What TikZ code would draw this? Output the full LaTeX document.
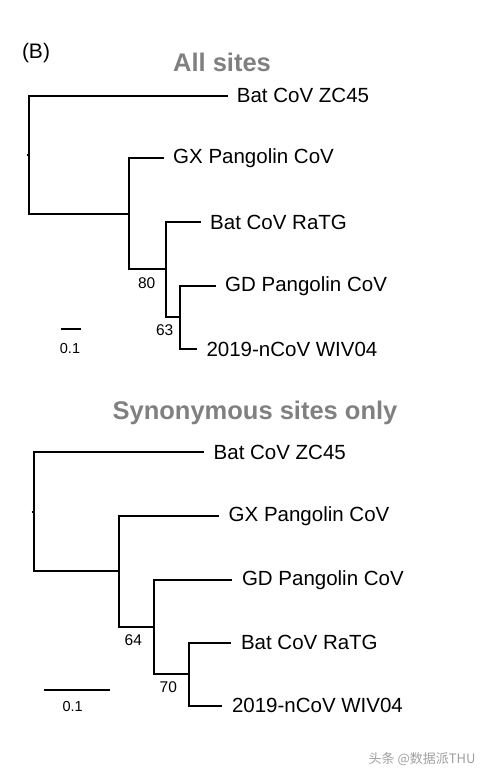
\documentclass[tikz,border=0pt]{standalone}
\usepackage{fontspec}
\setmainfont{Liberation Sans}
\newfontfamily\cjk{Noto Sans CJK SC}
\usetikzlibrary{positioning}
\definecolor{titlegray}{RGB}{128,128,128}

\begin{document}
\begin{tikzpicture}[x=1pt,y=-1pt,
    branch/.style={line width=1.9pt},
    taxon/.style={anchor=west,inner sep=0pt,font=\fontsize{20.5}{20.5}\selectfont},
    boot/.style={inner sep=0pt,font=\fontsize{15.5}{15.5}\selectfont},
    heading/.style={inner sep=0pt,text=titlegray,font=\bfseries\fontsize{25.5}{25.5}\selectfont}]
    \useasboundingbox (0,0) rectangle (484,776);

    % nadpisy
    \node[inner sep=0pt,font=\fontsize{21}{21}\selectfont] (panel) at (36,53) {(B)};
    \node[heading] (titleA) at (222,62) {All sites};
    \node[heading] (titleB) at (255,413) {Synonymous sites only};

    % horni strom
    \coordinate (a0s) at (26.5,154.7);
    \coordinate (a0) at (29.3,154.7);
    \coordinate (a1) at (128.7,213.7);
    \coordinate (a2) at (165.7,269.3);
    \coordinate (a3) at (180,317);
    \coordinate (aZC) at (227.7,95.7);
    \coordinate (aGX) at (164,157.7);
    \coordinate (aRa) at (201,222);
    \coordinate (aGD) at (216,285.7);
    \coordinate (aWI) at (197.3,349);
    \draw[branch] (a0s) -- (a0);
    \draw[branch] (a0) |- (aZC);
    \draw[branch] (a0) |- (a1);
    \draw[branch] (a1) |- (aGX);
    \draw[branch] (a1) |- (a2);
    \draw[branch] (a2) |- (aRa);
    \draw[branch] (a2) |- (a3);
    \draw[branch] (a3) |- (aGD);
    \draw[branch] (a3) |- (aWI);
    \node[taxon, right=9pt of aZC] (laZC) {Bat CoV ZC45};
    \node[taxon, right=9pt of aGX] (laGX) {GX Pangolin CoV};
    \node[taxon, right=9pt of aRa] (laRa) {Bat CoV RaTG};
    \node[taxon, right=9pt of aGD] (laGD) {GD Pangolin CoV};
    \node[taxon, right=9pt of aWI] (laWI) {2019-nCoV WIV04};
    \node[boot] (ba80) at (146.7,283.5) {80};
    \node[boot] (ba63) at (164.7,330) {63};

    % meritko
    \coordinate (sa1) at (60.7,329.3);
    \coordinate (sa2) at (80.7,329.3);
    \draw[branch] (sa1) -- (sa2);
    \node[boot, font=\fontsize{14.5}{14.5}\selectfont] (sa) at (70,348.5) {0.1};

    % dolni strom
    \coordinate (b0s) at (31.5,511.7);
    \coordinate (b0) at (34,511.7);
    \coordinate (b1) at (119.3,571.3);
    \coordinate (b2) at (154.3,627);
    \coordinate (b3) at (189.3,674.3);
    \coordinate (bZC) at (204,452);
    \coordinate (bGX) at (219,516);
    \coordinate (bGD) at (232.3,579.7);
    \coordinate (bRa) at (231.3,642.7);
    \coordinate (bWI) at (222.3,705.7);
    \draw[branch] (b0s) -- (b0);
    \draw[branch] (b0) |- (bZC);
    \draw[branch] (b0) |- (b1);
    \draw[branch] (b1) |- (bGX);
    \draw[branch] (b1) |- (b2);
    \draw[branch] (b2) |- (bGD);
    \draw[branch] (b2) |- (b3);
    \draw[branch] (b3) |- (bRa);
    \draw[branch] (b3) |- (bWI);
    \node[taxon, right=9.5pt of bZC] (lbZC) {Bat CoV ZC45};
    \node[taxon, right=9.5pt of bGX] (lbGX) {GX Pangolin CoV};
    \node[taxon, right=9.5pt of bGD] (lbGD) {GD Pangolin CoV};
    \node[taxon, right=9.5pt of bRa] (lbRa) {Bat CoV RaTG};
    \node[taxon, right=9.5pt of bWI] (lbWI) {2019-nCoV WIV04};
    \node[boot] (bb64) at (133.3,640) {64};
    \node[boot] (bb70) at (168.3,686.7) {70};

    % meritko
    \coordinate (sb1) at (44.3,690);
    \coordinate (sb2) at (110,690);
    \draw[branch] (sb1) -- (sb2);
    \node[boot, font=\fontsize{14.5}{14.5}\selectfont] (sb) at (72.7,706) {0.1};

    % vodoznak
    \node[inner sep=0pt, text=gray!75, font=\cjk\fontsize{13}{13}\selectfont] (mark) at (422,759.5) {头条 @数据派THU};
\end{tikzpicture}
\end{document}
